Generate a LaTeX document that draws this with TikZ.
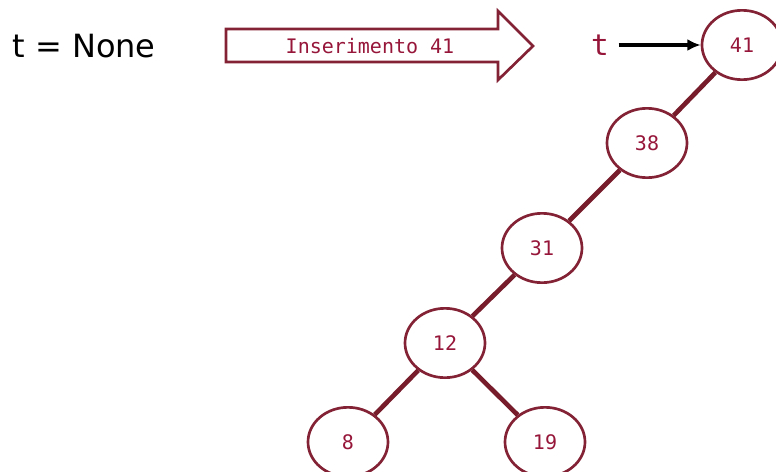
\documentclass[tikz,border=0pt]{standalone}
\usepackage{fontspec}
\setmainfont{DejaVu Sans}
\newfontfamily\codefont{DejaVu Sans Mono}
\usetikzlibrary{shapes.geometric,arrows.meta}

\definecolor{bstline}{RGB}{118,28,42}
\definecolor{bstborder}{RGB}{130,34,52}
\definecolor{bsttext}{RGB}{150,22,58}

\tikzset{every picture/.style={line width=0.75pt}}
\tikzset{
  bstnode/.style={draw=bstborder, line width=2pt, ellipse, minimum width=60pt, minimum height=52pt, inner sep=0pt, text=bsttext, font=\codefont\fontsize{15}{18}\selectfont},
  bstedge/.style={draw=bstline, line width=3.5pt},
}

\begin{document}
\begin{tikzpicture}[x=0.75pt,y=0.75pt,yscale=-1,xscale=1]
\useasboundingbox (0,0) rectangle (776,472);

% Text Node
\node (empty) at (84,46) {\fontsize{24}{28}\selectfont t = None};

%Shape: Right Arrow
\draw [color=bstborder, line width=2pt] (226,29) -- (498,29) -- (498,11) -- (533,46) -- (498,80) -- (498,62) -- (226,62) -- cycle ;
% Text Node
\node (ins) at (370,46) [text=bsttext, font=\codefont\fontsize{15}{18}\selectfont] {Inserimento 41};

% Tree nodes
\node [bstnode] (n41) at (742,45) {41};
\node [bstnode] (n38) at (647,143) {38};
\node [bstnode] (n31) at (542,248) {31};
\node [bstnode] (n12) at (445,343) {12};
\node [bstnode] (n8) at (348,442) {8};
\node [bstnode] (n19) at (545,442) {19};

% Edges
\draw [bstedge] (n41) -- (n38);
\draw [bstedge] (n38) -- (n31);
\draw [bstedge] (n31) -- (n12);
\draw [bstedge] (n12) -- (n8);
\draw [bstedge] (n12) -- (n19);

% Pointer t
\node (t) at (600,45) [text=bsttext, inner sep=7pt, font=\codefont\fontsize{22}{26}\selectfont] {t};
\draw [line width=2.6pt, -{Latex[length=10pt,width=9pt]}] (t) -- (n41);

\end{tikzpicture}
\end{document}
